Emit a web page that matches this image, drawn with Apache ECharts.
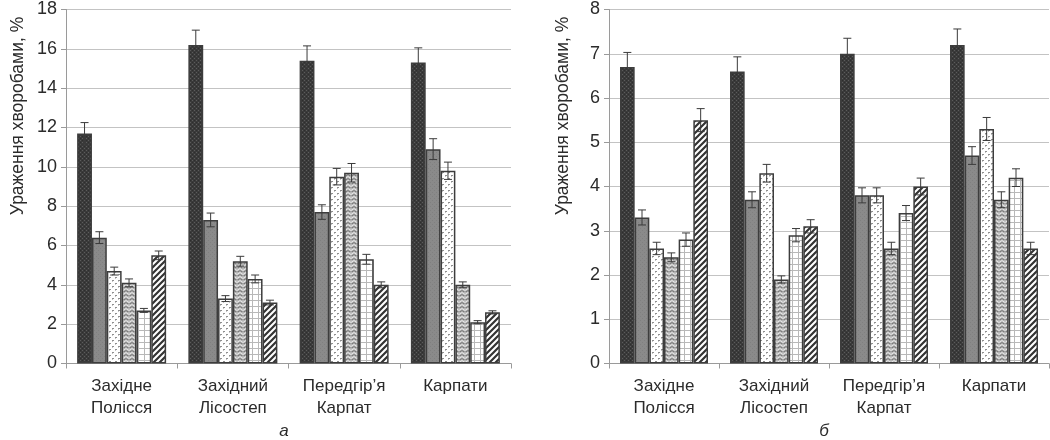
<!DOCTYPE html>
<html>
<head>
<meta charset="utf-8">
<script src="https://cdn.jsdelivr.net/npm/echarts@6/dist/echarts.min.js"></script>
<style>
  html, body { margin: 0; padding: 0; background: #fff; }
  #chart { width: 1050px; height: 440px; }
</style>
</head>
<body>
<div id="chart"></div>
<script>
// Regions (x-axis categories)
const categories = ['Західне\nПолісся', 'Західний\nЛісостеп', 'Передгір’я\nКарпат', 'Карпати'];

// Panel "а": disease incidence, % (six series per region)
const aValues = [
  [11.7, 16.2, 15.4, 15.3],
  [6.4, 7.3, 7.7, 10.9],
  [4.7, 3.3, 9.5, 9.8],
  [4.1, 5.2, 9.7, 4.0],
  [2.7, 4.3, 5.3, 2.1],
  [5.5, 3.1, 4.0, 2.6]
];
const aErrors = [
  [0.55, 0.75, 0.75, 0.75],
  [0.3, 0.35, 0.37, 0.53],
  [0.2, 0.15, 0.42, 0.44],
  [0.2, 0.25, 0.47, 0.15],
  [0.1, 0.2, 0.25, 0.08],
  [0.22, 0.12, 0.15, 0.08]
];

// Panel "б"
const bValues = [
  [6.7, 6.6, 7.0, 7.2],
  [3.3, 3.7, 3.8, 4.7],
  [2.6, 4.3, 3.8, 5.3],
  [2.4, 1.9, 2.6, 3.7],
  [2.8, 2.9, 3.4, 4.2],
  [5.5, 3.1, 4.0, 2.6]
];
const bErrors = [
  [0.33, 0.33, 0.35, 0.36],
  [0.17, 0.18, 0.17, 0.2],
  [0.14, 0.2, 0.17, 0.26],
  [0.1, 0.08, 0.14, 0.18],
  [0.15, 0.15, 0.17, 0.2],
  [0.26, 0.15, 0.19, 0.14]
];

const aTicks = { min: 0, max: 18, interval: 2 };
const bTicks = { min: 0, max: 8, interval: 1 };
const yName = 'Ураження хворобами, %';
const panelLabels = ['а', 'б'];

// ---- fill patterns ----
function makeCanvas(w, h, draw) {
  const c = document.createElement('canvas');
  c.width = w; c.height = h;
  const ctx = c.getContext('2d');
  draw(ctx, w, h);
  return c;
}
const patterns = [
  // dark fine texture
  makeCanvas(4, 4, (ctx) => {
    ctx.fillStyle = '#3a3a3a'; ctx.fillRect(0, 0, 4, 4);
    ctx.fillStyle = '#5c5c5c';
    ctx.fillRect(0, 0, 1, 1); ctx.fillRect(2, 2, 1, 1);
    ctx.fillStyle = '#2e2e2e';
    ctx.fillRect(2, 0, 1, 1); ctx.fillRect(0, 2, 1, 1);
  }),
  // mid grey
  makeCanvas(4, 4, (ctx) => {
    ctx.fillStyle = '#8a8a8a'; ctx.fillRect(0, 0, 4, 4);
    ctx.fillStyle = '#808080';
    ctx.fillRect(0, 0, 1, 1); ctx.fillRect(2, 2, 1, 1);
  }),
  // white with dots
  makeCanvas(6, 6, (ctx) => {
    ctx.fillStyle = '#ffffff'; ctx.fillRect(0, 0, 6, 6);
    ctx.fillStyle = '#8f8f8f';
    ctx.fillRect(1, 1, 2, 1); ctx.fillRect(4, 4, 2, 1);
    ctx.fillStyle = '#c4c4c4';
    ctx.fillRect(1, 2, 1, 1); ctx.fillRect(4, 5, 1, 1);
  }),
  // grey zigzag
  makeCanvas(6, 4, (ctx) => {
    ctx.fillStyle = '#b4b4b4'; ctx.fillRect(0, 0, 6, 4);
    ctx.strokeStyle = '#e6e6e6'; ctx.lineWidth = 1;
    ctx.beginPath();
    ctx.moveTo(0, 0.5); ctx.lineTo(3, 2.5); ctx.lineTo(6, 0.5);
    ctx.stroke();
    ctx.strokeStyle = '#7a7a7a';
    ctx.beginPath();
    ctx.moveTo(0, 2.5); ctx.lineTo(3, 4.5); ctx.lineTo(6, 2.5);
    ctx.stroke();
  }),
  // white with light grid
  makeCanvas(6, 6, (ctx) => {
    ctx.fillStyle = '#ffffff'; ctx.fillRect(0, 0, 6, 6);
    ctx.fillStyle = '#b8b8b8';
    ctx.fillRect(0, 0, 1, 6);
    ctx.fillRect(0, 0, 6, 1);
  }),
  // diagonal stripes
  makeCanvas(6, 6, (ctx) => {
    ctx.fillStyle = '#ffffff'; ctx.fillRect(0, 0, 6, 6);
    ctx.strokeStyle = '#333333'; ctx.lineWidth = 2.2;
    ctx.beginPath();
    ctx.moveTo(-1, 7); ctx.lineTo(7, -1);
    ctx.moveTo(-4, 4); ctx.lineTo(4, -4);
    ctx.moveTo(2, 10); ctx.lineTo(10, 2);
    ctx.stroke();
  })
];

const chart = echarts.init(document.getElementById('chart'), null, { renderer: 'canvas' });

const textColor = '#2b2b2b';
const font = 'Liberation Sans, Arial, sans-serif';
const catGap = 0.2; // barCategoryGap fraction

function yAxis(grid, t) {
  return {
    type: 'value', gridIndex: grid, min: t.min, max: t.max, interval: t.interval,
    axisLine: { show: true, lineStyle: { color: '#9a9a9a', width: 1 } },
    axisTick: { show: true, length: 5, lineStyle: { color: '#9a9a9a' } },
    splitLine: { lineStyle: { color: '#c3c3c3', width: 1 } },
    axisLabel: { color: textColor, fontSize: 18, fontFamily: font, margin: 9 }
  };
}
function xAxis(grid) {
  return {
    type: 'category', gridIndex: grid, data: categories,
    axisLine: { lineStyle: { color: '#9a9a9a', width: 1 } },
    axisTick: { show: true, length: 5, lineStyle: { color: '#9a9a9a' } },
    axisLabel: { color: textColor, fontSize: 17, fontFamily: font, lineHeight: 22, margin: 12, interval: 0 }
  };
}

const series = [];
[[aValues, aErrors], [bValues, bErrors]].forEach(([vals, errs], p) => {
  vals.forEach((arr, s) => {
    series.push({
      type: 'bar', xAxisIndex: p, yAxisIndex: p, data: arr,
      barGap: '0%', barCategoryGap: (catGap * 100) + '%',
      itemStyle: {
        color: { image: patterns[s], repeat: 'repeat' },
        borderColor: '#3d3d3d', borderWidth: 1.5
      },
      silent: true, animation: false
    });
  });
  // error bars, one item per bar: [category, value, error, series]
  const errData = [];
  vals.forEach((arr, s) => arr.forEach((v, c) => errData.push([c, v, errs[s][c], s])));
  series.push({
    type: 'custom', xAxisIndex: p, yAxisIndex: p, data: errData, z: 10,
    silent: true, animation: false,
    renderItem(params, api) {
      const c = api.value(0), v = api.value(1), e = api.value(2), s = api.value(3);
      const band = api.size([1, 0])[0];
      const bw = band * (1 - catGap) / vals.length;
      const center = api.coord([c, v]);
      const x = center[0] - band * (1 - catGap) / 2 + bw * (s + 0.5);
      const top = api.coord([c, v + e])[1];
      const bot = api.coord([c, v - e])[1];
      const cap = 4;
      const st = { stroke: '#3a3a3a', lineWidth: 1 };
      return {
        type: 'group', children: [
          { type: 'line', shape: { x1: x, y1: top, x2: x, y2: bot }, style: st },
          { type: 'line', shape: { x1: x - cap, y1: top, x2: x + cap, y2: top }, style: st },
          { type: 'line', shape: { x1: x - cap, y1: bot, x2: x + cap, y2: bot }, style: st }
        ]
      };
    }
  });
});

chart.setOption({
  backgroundColor: '#ffffff',
  animation: false,
  grid: [
    { left: 66, width: 445, top: 9.5, bottom: 76.5 },
    { left: 609, width: 440, top: 9.5, bottom: 76.5 }
  ],
  xAxis: [xAxis(0), xAxis(1)],
  yAxis: [yAxis(0, aTicks), yAxis(1, bTicks)],
  series: series,
  graphic: [
    { type: 'text', x: 18, y: 116, rotation: Math.PI / 2,
      style: { text: yName, fill: textColor, font: '17.5px ' + font, align: 'center', verticalAlign: 'middle' } },
    { type: 'text', x: 563, y: 116, rotation: Math.PI / 2,
      style: { text: yName, fill: textColor, font: '17.5px ' + font, align: 'center', verticalAlign: 'middle' } },
    { type: 'text', x: 284, y: 431,
      style: { text: panelLabels[0], fill: textColor, font: 'italic 17px ' + font, align: 'center', verticalAlign: 'middle' } },
    { type: 'text', x: 824, y: 431,
      style: { text: panelLabels[1], fill: textColor, font: 'italic 17px ' + font, align: 'center', verticalAlign: 'middle' } }
  ]
});
</script>
</body>
</html>
